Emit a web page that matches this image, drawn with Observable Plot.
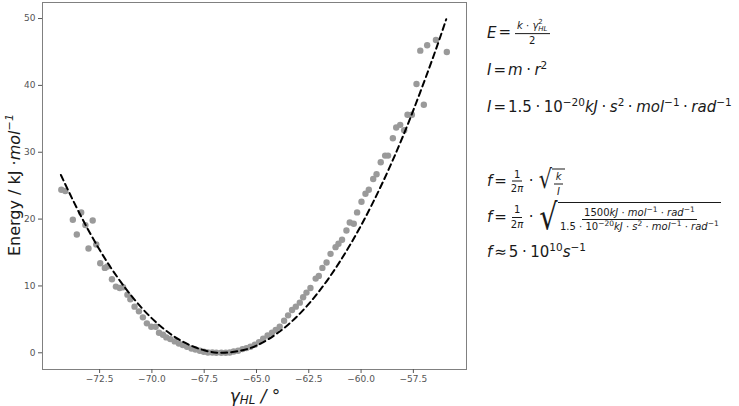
<!DOCTYPE html>
<html>
<head>
<meta charset="utf-8">
<script src="https://cdn.jsdelivr.net/npm/d3@7"></script>
<script src="https://cdn.jsdelivr.net/npm/@observablehq/plot@0.6"></script>
<style>
  html, body { margin: 0; padding: 0; background: #fff; }
  #wrap { position: relative; width: 739px; height: 406px; overflow: hidden; font-family: "DejaVu Sans", sans-serif; color: #1a1a1a; }
  #chart { position: absolute; left: 0; top: 0; }
  .eq { position: absolute; left: 487px; font-size: 15px; white-space: nowrap; transform: translateY(-50%); line-height: 1.2; }
  .eq i { font-style: italic; }
  .op { margin: 0 2px; }
  .dot { margin: 0 3.5px; }
  sup { font-size: 0.7em; vertical-align: 0.55em; line-height: 0; }
  .frac { display: inline-flex; flex-direction: column; align-items: center; font-size: 10px; line-height: 1.15; margin: 0 2px; vertical-align: middle; }
  .frac > .num { border-bottom: 1px solid #1a1a1a; padding: 0 2px 1px 2px; }
  .frac > .den { padding-top: 1px; }
  .frac sup { font-size: 0.75em; }
  .supsub { display: inline-flex; flex-direction: column; font-size: 0.7em; line-height: 0.95; vertical-align: middle; }
  .sqrt { display: inline-flex; align-items: stretch; vertical-align: middle; }
  .rad { display: inline-block; font-size: 26px; line-height: 1; transform: scaleX(0.8); margin-right: -2px; }
  .under { border-top: 1px solid #1a1a1a; padding: 1px 2px 0 2px; display: inline-flex; align-items: center; margin-top: 3px; }
  .big .rad { font-size: 36px; }
  .ylab { position: absolute; left: 14px; top: 185px; font-size: 16px; white-space: nowrap; transform: translate(-50%, -50%) rotate(-90deg); }
  .xlab { position: absolute; left: 255px; top: 396px; font-size: 17px; font-style: italic; white-space: nowrap; transform: translate(-50%, -50%); line-height: 1; }
  .xlab sub { font-size: 0.7em; vertical-align: -0.2em; line-height: 0; }
</style>
</head>
<body>
<div id="wrap">
  <div id="chart"></div>
  <div class="ylab">Energy / kJ ·<i>mol</i><sup><i>−1</i></sup></div>
  <div class="xlab">γ<sub>HL</sub> / °</div>

  <div class="eq" style="top:33px"><i>E</i><span class="op">=</span><span class="frac"><span class="num"><i>k</i> · <i>γ</i><span class="supsub"><span>2</span><span><i>HL</i></span></span></span><span class="den">2</span></span></div>
  <div class="eq" style="top:70px"><i>I</i><span class="op">=</span><i>m</i><span class="dot">·</span><i>r</i><sup>2</sup></div>
  <div class="eq" style="top:107px"><i>I</i><span class="op">=</span>1.5<span class="dot">·</span>10<sup>−20</sup><i>kJ</i><span class="dot">·</span><i>s</i><sup>2</sup><span class="dot">·</span><i>mol</i><sup>−1</sup><span class="dot">·</span><i>rad</i><sup>−1</sup></div>

  <div class="eq" style="top:181px"><i>f</i><span class="op">=</span><span class="frac"><span class="num">1</span><span class="den">2<i>π</i></span></span><span class="dot">·</span><span class="sqrt"><span class="rad">√</span><span class="under"><span class="frac" style="margin:0"><span class="num"><i>k</i></span><span class="den"><i>I</i></span></span></span></span></div>
  <div class="eq big" style="top:217px"><i>f</i><span class="op">=</span><span class="frac"><span class="num">1</span><span class="den">2<i>π</i></span></span><span class="dot">·</span><span class="sqrt"><span class="rad">√</span><span class="under"><span class="frac" style="margin:0"><span class="num">1500<i>kJ</i> · <i>mol</i><sup>−1</sup> · <i>rad</i><sup>−1</sup></span><span class="den">1.5 · 10<sup>−20</sup><i>kJ</i> · <i>s</i><sup>2</sup> · <i>mol</i><sup>−1</sup> · <i>rad</i><sup>−1</sup></span></span></span></span></div>
  <div class="eq" style="top:252px"><i>f</i><span class="op">≈</span>5<span class="dot">·</span>10<sup>10</sup><i>s</i><sup>−1</sup></div>
</div>
<script>
// Measured points: dihedral gamma_HL (degrees) and energy (kJ/mol)
const gamma = [
  -74.33, -74.14, -73.78, -73.59, -73.38, -73.18, -73.03, -72.83, -72.66, -72.47,
  -72.25, -72.13, -71.91, -71.72, -71.54, -71.38, -71.17, -71.03, -70.83, -70.62,
  -70.43, -70.24, -70.03, -69.82, -69.66, -69.47, -69.31, -69.12, -68.91, -68.71,
  -68.52, -68.32, -68.11, -67.92, -67.71, -67.52, -67.32, -67.11, -66.92, -66.68,
  -66.47, -66.28, -66.09, -65.88, -65.67, -65.48, -65.29, -65.08, -64.88, -64.68,
  -64.47, -64.26, -64.08, -63.89, -63.68, -63.49, -63.30, -63.12, -62.93, -62.77,
  -62.61, -62.42, -62.17, -62.02, -61.85, -61.65, -61.46, -61.22, -61.08, -60.91,
  -60.70, -60.54, -60.35, -60.19, -59.98, -59.79, -59.63, -59.42, -59.26, -59.06,
  -58.85, -58.71, -58.48, -58.32, -58.13, -57.94, -57.78, -57.57, -57.35, -57.17,
  -57.00, -56.84, -56.42, -55.90
];
const energy = [
  24.4, 24.2, 19.9, 17.7, 21.0, 19.1, 15.6, 19.8, 16.2, 13.4,
  12.7, 12.9, 11.0, 9.9, 9.7, 9.8, 8.7, 8.0, 6.9, 6.2,
  5.3, 4.4, 3.9, 3.9, 3.0, 2.7, 2.3, 2.05, 1.7, 1.4,
  1.15, 0.9, 0.65, 0.5, 0.3, 0.15, 0.05, 0.05, 0.0, 0.0,
  0.0, 0.05, 0.2, 0.3, 0.55, 0.7, 0.9, 1.2, 1.6, 2.1,
  2.6, 3.0, 3.4, 3.9, 4.8, 5.6, 6.4, 6.9, 7.5, 8.3,
  9.0, 9.7, 11.1, 11.5, 12.7, 13.5, 14.8, 15.8, 16.3, 16.9,
  18.3, 19.5, 19.3, 21.0, 22.6, 23.8, 24.4, 26.0, 26.7, 28.5,
  29.5, 29.5, 32.1, 33.7, 34.1, 33.3, 35.6, 35.6, 40.2, 45.2,
  37.1, 46.0, 46.8, 45.0
];
// Harmonic fit curve
const fitGamma = [-74.35, -73.5, -72.5, -71.5, -70.5, -69.5, -68.5, -67.5, -66.6, -65.5, -64.5, -63.5, -62.5, -61.5, -60.5, -59.5, -58.5, -57.5, -56.5, -55.93];
const fitEnergy = [26.6, 21.1, 15.4, 10.65, 6.76, 3.75, 1.62, 0.37, 0.0, 0.51, 1.9, 4.17, 7.32, 11.35, 16.27, 22.05, 28.7, 36.3, 44.7, 49.9];
const xTicks = [-72.5, -70.0, -67.5, -65.0, -62.5, -60.0, -57.5];
const yTicks = [0, 10, 20, 30, 40, 50];

const points = gamma.map((g, i) => ({g, e: energy[i]}));
const fit = fitGamma.map((g, i) => ({g, e: fitEnergy[i]}));

const chart = Plot.plot({
  width: 470,
  height: 406,
  marginLeft: 42,
  marginRight: 4,
  marginTop: 2,
  marginBottom: 37,
  x: {domain: [-75.23, -54.96], label: null},
  y: {domain: [-2.5, 52.4], label: null},
  style: {fontFamily: "DejaVu Sans", fontSize: "9px", background: "white"},
  marks: [
    Plot.frame({stroke: "#808080"}),
    Plot.axisX({ticks: xTicks, tickFormat: d3.format(".1f"), tickSize: 4, tickPadding: 2, color: "#555", label: null}),
    Plot.axisY({ticks: yTicks, tickFormat: d3.format("d"), tickSize: 4, tickPadding: 3, color: "#555", label: null}),
    Plot.dot(points, {x: "g", y: "e", r: 3.2, fill: "#9a9a9a", stroke: "none"}),
    Plot.line(fit, {x: "g", y: "e", stroke: "black", strokeWidth: 2, strokeDasharray: "6,4", curve: "natural"})
  ]
});
document.getElementById("chart").appendChild(chart);
</script>
</body>
</html>
